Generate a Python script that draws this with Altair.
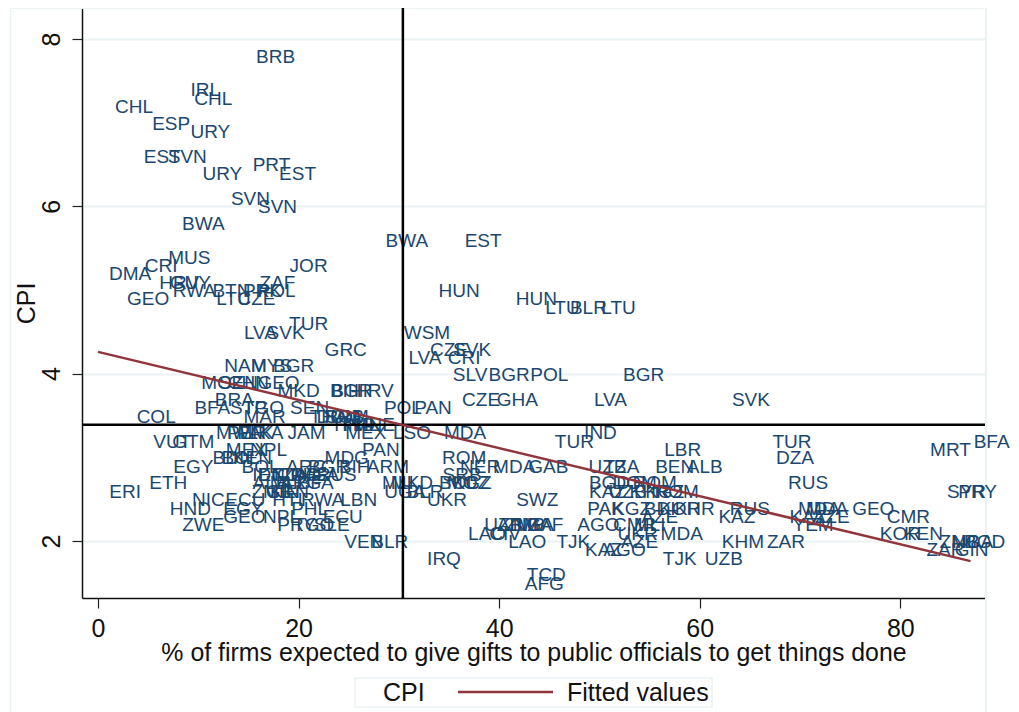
import altair as alt
import pandas as pd

codes = [
 "BRB","IRL","CHL","CHL","ESP","URY",
 "EST","SVN","PRT","URY","EST","SVN","SVN","BWA",
 "BWA","EST","MUS","CRI","JOR","DMA",
 "ZAF","HRV","GUY",
 "RWA","BTN","PRK","POL","HUN",
 "GEO","LTU","CZE","HUN",
 "LTU","BLR","LTU","TUR",
 "LVA","SVK","WSM",
 "CZE","SVK","GRC","LVA","CRI",
 "NAM","MYS","BGR",
 "SLV","BGR","POL","BGR",
 "MOZ","SEN","CHN","GEO",
 "MKD","BIH","BGR","HRV",
 "BRA","CZE","GHA","LVA","SVK",
 "BFA","STP","TGO","SEN","POL","PAN",
 "COL","MAR","THA","DOM","ROM","SRB",
 "HND","PHL","MNE",
 "MEX","LSO","MDA","IND","JAM","MWI","PER","PAK","LKA",
 "VUT","GTM","TUR","TUR","BFA",
 "MRT","LBR","MEX","NPL","PAN",
 "MDG","BDI","BOL","KEN","ROM","DZA",
 "EGY","BOL","ARG","BGR","BIH","ARM","NER","MDA","GAB","UZB","TZA","BEN","ALB",
 "SRB","RUS","IDN","ECU","TZA","COG","PHL","NGA",
 "RUS","ETH","MLI","MKD","BOL","MOZ","KGZ","BGD","DOM","ROM","ALB","MLI","ARG","BFA",
 "ROM","UGA","BLR","KAZ","UZB","KHR","KGZ","ERI","SYR","PRY","ZMB","KEN","GIN",
 "NIC","ECU","HTI","RWA","LBN","UKR","SWZ",
 "HND","EGY","PHL","MDA","MDA","GEO","RUS","PAK","KGZ","BDI","KOR","KHR",
 "KAZ","KAZ","AZE","CMR","ECU","GEO","NPL","AZE",
 "PRY","TGO","SLE","ZWE","YEM","UZB","ARM","ZMB","NGA","ZAF","AGO","CMR","MLI",
 "LAO","CIV","MDA","UKR","KOR","KEN",
 "LAO","TJK","KHM","ZAR","VEN","BLR","AZE","ZMB","BGD","NGA",
 "ZAR","GIN","KAZ","AGO",
 "TJK","UZB","IRQ","TCD","AFG",
]
gift_pct = [
 17.7,10.7,11.5,3.6,7.3,11.2,
 6.4,8.9,17.3,12.4,19.9,15.2,17.9,10.5,
 30.8,38.4,9.1,6.3,21.0,3.2,
 17.9,8.1,9.2,
 9.6,13.3,16.4,17.8,36.0,
 5.0,13.5,15.8,43.7,
 46.3,48.9,51.9,21.0,
 16.2,18.7,32.8,
 35.0,37.3,24.7,32.6,36.5,
 14.7,17.3,19.5,
 37.1,41.0,45.0,54.4,
 12.4,14.0,15.0,18.0,
 20.0,24.7,25.3,27.5,
 13.6,38.2,41.8,51.1,65.1,
 11.4,15.0,16.5,21.1,30.4,33.4,
 5.8,16.6,23.0,24.0,24.8,24.6,
 25.6,26.2,27.5,
 26.7,31.3,36.6,50.1,20.8,13.7,14.8,15.7,16.7,
 7.4,9.5,47.5,69.2,89.1,
 85.0,58.3,14.8,17.0,28.2,
 24.8,13.0,14.2,15.4,36.5,69.5,
 9.5,16.2,20.8,23.0,25.6,28.9,38.1,41.5,44.9,50.8,52.2,57.5,60.5,
 36.3,23.8,17.0,18.0,19.0,20.0,21.0,22.0,
 70.8,7.0,29.9,31.3,35.9,36.9,37.3,51.0,53.5,55.5,17.2,18.7,20.2,21.7,
 57.7,30.6,32.6,50.8,52.8,55.0,56.5,2.7,86.6,87.7,17.3,19.1,18.4,
 11.0,14.7,18.9,22.4,26.0,34.8,43.8,
 9.2,14.5,21.1,71.9,72.7,77.3,65.0,50.6,53.2,56.0,58.0,59.5,
 63.7,70.8,73.1,80.8,24.4,14.6,18.3,56.0,
 19.8,21.5,23.3,10.5,71.3,40.4,41.9,42.6,43.4,44.6,49.9,53.5,55.0,
 38.8,40.6,58.2,53.8,80.0,82.3,
 42.8,47.4,64.3,68.6,26.5,29.1,54.0,85.9,88.4,87.2,
 84.5,87.1,50.4,52.5,
 58.0,62.4,34.5,44.7,44.5,
]
cpi = [
 7.8,7.4,7.3,7.2,7.0,6.9,
 6.6,6.6,6.5,6.4,6.4,6.1,6.0,5.8,
 5.6,5.6,5.4,5.3,5.3,5.2,
 5.1,5.1,5.1,
 5.0,5.0,5.0,5.0,5.0,
 4.9,4.9,4.9,4.9,
 4.8,4.8,4.8,4.6,
 4.5,4.5,4.5,
 4.3,4.3,4.3,4.2,4.2,
 4.1,4.1,4.1,
 4.0,4.0,4.0,4.0,
 3.9,3.9,3.9,3.9,
 3.8,3.8,3.8,3.8,
 3.7,3.7,3.7,3.7,3.7,
 3.6,3.6,3.6,3.6,3.6,3.6,
 3.5,3.5,3.5,3.5,3.5,3.5,
 3.4,3.4,3.4,
 3.3,3.3,3.3,3.3,3.3,3.3,3.3,3.3,3.3,
 3.2,3.2,3.2,3.2,3.2,
 3.1,3.1,3.1,3.1,3.1,
 3.0,3.0,3.0,3.0,3.0,3.0,
 2.9,2.9,2.9,2.9,2.9,2.9,2.9,2.9,2.9,2.9,2.9,2.9,2.9,
 2.8,2.8,2.8,2.8,2.8,2.8,2.8,2.8,
 2.7,2.7,2.7,2.7,2.7,2.7,2.7,2.7,2.7,2.7,2.7,2.7,2.7,2.7,
 2.6,2.6,2.6,2.6,2.6,2.6,2.6,2.6,2.6,2.6,2.6,2.6,2.6,
 2.5,2.5,2.5,2.5,2.5,2.5,2.5,
 2.4,2.4,2.4,2.4,2.4,2.4,2.4,2.4,2.4,2.4,2.4,2.4,
 2.3,2.3,2.3,2.3,2.3,2.3,2.3,2.3,
 2.2,2.2,2.2,2.2,2.2,2.2,2.2,2.2,2.2,2.2,2.2,2.2,2.2,
 2.1,2.1,2.1,2.1,2.1,2.1,
 2.0,2.0,2.0,2.0,2.0,2.0,2.0,2.0,2.0,2.0,
 1.9,1.9,1.9,1.9,
 1.8,1.8,1.8,1.6,1.5,
]
assert len(codes) == len(gift_pct) == len(cpi), (len(codes), len(gift_pct), len(cpi))

fit_x = [0, 87]
fit_y = [4.26, 1.76]
mean_gift = [30.4]
mean_cpi = [3.39]
x_ticks = [0, 20, 40, 60, 80]
y_ticks = [2, 4, 6, 8]

NAVY = "#1a476f"
RED = "#90353b"
PALE = "#eaf2f3"
FONT = "Liberation Sans"

x_scale = alt.Scale(domain=[-1.595, 88.44], nice=False, zero=False)
y_scale = alt.Scale(domain=[1.319, 8.37], nice=False, zero=False)

x_enc = alt.X("x:Q", scale=x_scale, axis=alt.Axis(
    values=x_ticks, format="d", title="% of firms expected to give gifts to public officials to get things done",
    grid=False, tickSize=10, tickColor="#222", domainColor="#111", domainWidth=1.5, tickWidth=1.2,
    labelFontSize=25, titleFontSize=24.9, labelFont=FONT, titleFont=FONT, titleFontWeight="normal",
    labelColor="#111", titleColor="#111", labelPadding=8, titlePadding=-1, labelFlush=False))
y_enc = alt.Y("y:Q", scale=y_scale, axis=alt.Axis(
    values=y_ticks, format="d", title="CPI", grid=True, gridColor=PALE, gridWidth=2,
    tickSize=10, tickColor="#222", domainColor="#111", domainWidth=1.5, tickWidth=1.2,
    labelFontSize=25, titleFontSize=25, labelFont=FONT, titleFont=FONT, titleFontWeight="normal",
    labelColor="#111", titleColor="#111", labelAngle=270, labelPadding=8, titlePadding=0,
    labelAlign="center", labelBaseline="bottom"))

points = pd.DataFrame({"code": codes, "x": gift_pct, "y": cpi})
fit = pd.DataFrame({"x": fit_x, "y": fit_y})
one = pd.DataFrame({"a": [0]})

frame = alt.layer(
    alt.Chart(one).mark_rule(color=PALE, strokeWidth=1.5).encode(x=alt.value(-71.5), y=alt.value(0), y2=alt.value(704)),
    alt.Chart(one).mark_rule(color=PALE, strokeWidth=2).encode(x=alt.value(904), y=alt.value(0), y2=alt.value(704)),
    alt.Chart(one).mark_rule(color=PALE, strokeWidth=2).encode(x=alt.value(-72), x2=alt.value(905), y=alt.value(0)),
)

labels = alt.Chart(points).mark_text(color=NAVY, fontSize=19, font=FONT, baseline="middle", align="center", dy=1).encode(
    x=x_enc, y=y_enc, text="code:N")

vline = alt.Chart(pd.DataFrame({"x": mean_gift})).mark_rule(color="#000", strokeWidth=2.5).encode(
    x=alt.X("x:Q", scale=x_scale))
hline = alt.Chart(pd.DataFrame({"y": mean_cpi})).mark_rule(color="#000", strokeWidth=2.5).encode(
    y=alt.Y("y:Q", scale=y_scale))
line = alt.Chart(fit).mark_line(color=RED, strokeWidth=2.5).encode(
    x=alt.X("x:Q", scale=x_scale), y=alt.Y("y:Q", scale=y_scale))

legend = alt.layer(
    alt.Chart(one).mark_rect(fill="white", stroke=PALE, strokeWidth=1.5).encode(
        x=alt.value(273), x2=alt.value(630), y=alt.value(670), y2=alt.value(699)),
    alt.Chart(one).mark_text(text="CPI", fontSize=25, font=FONT, color="#111", align="left", baseline="middle").encode(
        x=alt.value(301), y=alt.value(685)),
    alt.Chart(one).mark_rule(color=RED, strokeWidth=2.5).encode(
        x=alt.value(376), x2=alt.value(471), y=alt.value(684)),
    alt.Chart(one).mark_text(text="Fitted values", fontSize=25, font=FONT, color="#111", align="left", baseline="middle").encode(
        x=alt.value(485), y=alt.value(685)),
)

chart = alt.layer(frame, labels, vline, hline, line, legend).properties(
    width=903, height=590,
    autosize=alt.AutoSizeParams(type="none"),
    padding={"left": 74, "top": 0, "right": 26, "bottom": 114},
    background="white",
).configure_view(stroke=None)

chart.save("out.html", embed_options={"renderer": "svg", "actions": False})
